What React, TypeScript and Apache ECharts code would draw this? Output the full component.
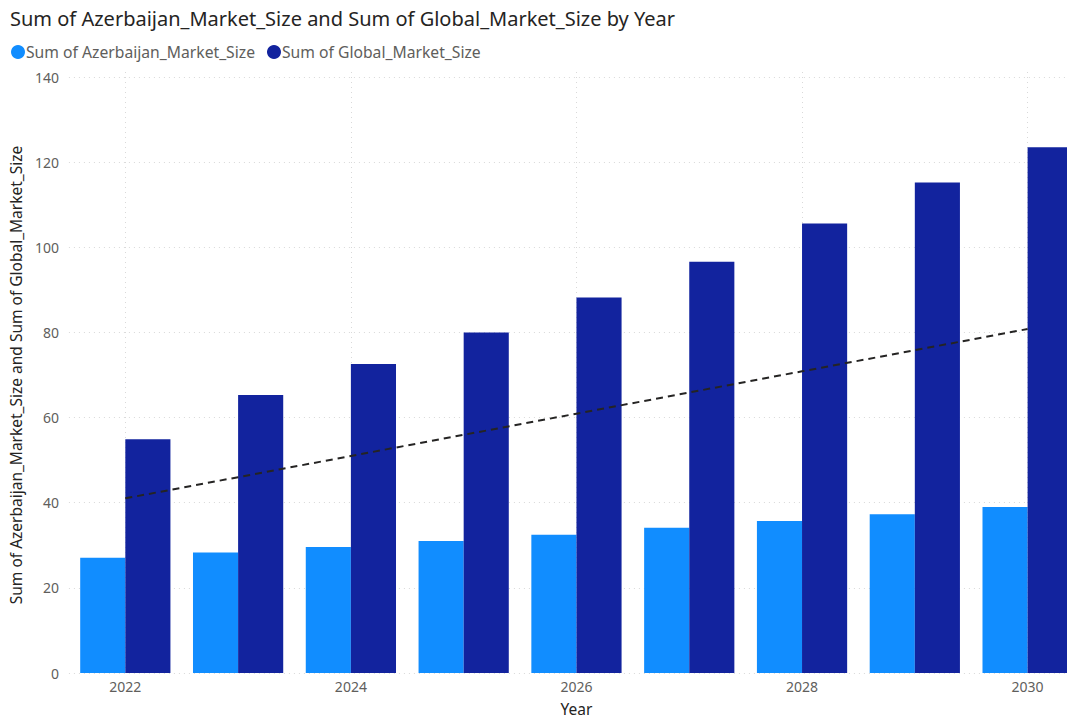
import React, { useEffect, useRef } from "react";
import * as echarts from "echarts";

const years = ["2022", "2023", "2024", "2025", "2026", "2027", "2028", "2029", "2030"];
const azerbaijan = [27.1, 28.3, 29.6, 31.0, 32.5, 34.1, 35.7, 37.3, 39.0];
const globalSize = [54.9, 65.3, 72.6, 80.0, 88.2, 96.6, 105.6, 115.2, 123.5];
const yTicks = { min: 0, max: 140, interval: 20 };

function trend(): number[] {
  const avg = years.map((_, i) => (azerbaijan[i] + globalSize[i]) / 2);
  const n = avg.length;
  const xs = avg.map((_, i) => i);
  const mx = xs.reduce((a, b) => a + b, 0) / n;
  const my = avg.reduce((a, b) => a + b, 0) / n;
  let num = 0, den = 0;
  xs.forEach((x, i) => { num += (x - mx) * (avg[i] - my); den += (x - mx) * (x - mx); });
  const slope = num / den;
  return xs.map((x) => +(my + slope * (x - mx)).toFixed(2));
}

export default function App() {
  const ref = useRef<HTMLDivElement>(null);
  useEffect(() => {
    if (!ref.current) return;
    const chart = echarts.init(ref.current, undefined, { renderer: "svg" });
    const font = "'Noto Sans', 'Open Sans', sans-serif";
    chart.setOption({
      animation: false,
      textStyle: { fontFamily: font },
      title: {
        text: "Sum of Azerbaijan_Market_Size and Sum of Global_Market_Size by Year",
        left: 5,
        top: 3,
        textStyle: { fontSize: 20, fontWeight: "normal", color: "#252423", fontFamily: font },
      },
      legend: {
        left: 6,
        top: 39,
        icon: "circle",
        itemWidth: 14,
        itemHeight: 14,
        itemGap: 12,
        textStyle: { fontSize: 15.7, color: "#605E5C", fontFamily: font, padding: [0, 0, 0, -4] },
        data: ["Sum of Azerbaijan_Market_Size", "Sum of Global_Market_Size"],
      },
      grid: { left: 61, right: 16, top: 77, bottom: 44, containLabel: false },
      xAxis: {
        type: "category",
        data: years,
        name: "Year",
        nameLocation: "middle",
        nameGap: 28,
        nameTextStyle: { fontSize: 15.5, color: "#252423", fontFamily: font },
        axisLine: { show: false },
        axisTick: {
          show: true,
          alignWithLabel: true,
          inside: true,
          length: 601,
          interval: 1,
          lineStyle: { color: "#D9D9D9", type: [1, 4], width: 1 },
        },
        axisLabel: { interval: 1, color: "#605E5C", fontSize: 14, margin: 6, fontFamily: font },
        splitLine: { show: false },
      },
      yAxis: {
        type: "value",
        min: yTicks.min,
        max: yTicks.max,
        interval: yTicks.interval,
        name: "Sum of Azerbaijan_Market_Size and Sum of Global_Market_Size",
        nameLocation: "middle",
        nameGap: 41,
        nameTextStyle: { fontSize: 15.5, color: "#252423", fontFamily: font },
        axisLabel: { color: "#605E5C", fontSize: 14, margin: 10, fontFamily: font },
        axisLine: { show: false },
        axisTick: { show: false },
        splitLine: { show: true, lineStyle: { color: "#D9D9D9", type: [1, 4], width: 1 } },
      },
      series: [
        {
          name: "Sum of Azerbaijan_Market_Size",
          type: "bar",
          data: azerbaijan,
          itemStyle: { color: "#118DFF" },
          barGap: "0%",
          barCategoryGap: "20%",
        },
        {
          name: "Sum of Global_Market_Size",
          type: "bar",
          data: globalSize,
          itemStyle: { color: "#12239E" },
          barGap: "0%",
          barCategoryGap: "20%",
        },
        {
          name: "Trend",
          type: "line",
          data: trend(),
          symbol: "none",
          lineStyle: { color: "#252423", type: [7, 5], width: 2 },
          z: 5,
        },
      ],
    });
    return () => chart.dispose();
  }, []);
  return (
    <div style={{ position: "fixed", left: 0, top: 0, width: 1067, height: 722, overflow: "hidden", background: "#fff" }}>
      <div ref={ref} style={{ width: 1100, height: 722 }} />
    </div>
  );
}
